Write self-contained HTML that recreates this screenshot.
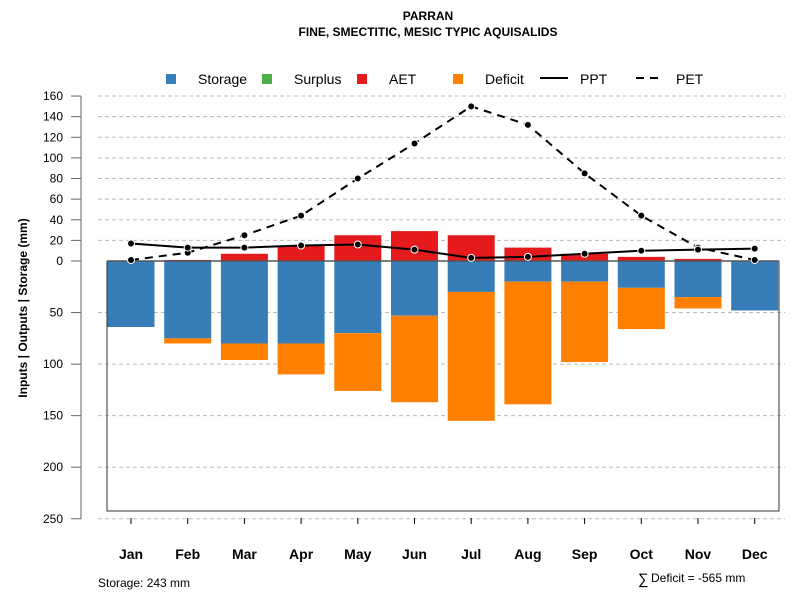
<!DOCTYPE html>
<html><head><meta charset="utf-8"><style>
body{margin:0;background:#fff;font-family:"Liberation Sans",sans-serif}
svg text{font-family:"Liberation Sans",sans-serif}
</style></head><body>
<svg id="c" width="800" height="600" xmlns="http://www.w3.org/2000/svg"></svg>
<script>
const months=["Jan","Feb","Mar","Apr","May","Jun","Jul","Aug","Sep","Oct","Nov","Dec"];
const ppt=[17,13,13,15,16,11,3,4,7,10,11,12];
const pet=[1,8,25,44,80,114,150,132,85,44,13,1];
const aet=[0,1,7,15,25,29,25,13,7,4,2,0];
const storage=[64,75,80,80,70,53,30,20,20,26,35,48];
const deficit=[0,5,16,30,56,84,125,119,78,40,11,0];
const surplus=[0,0,0,0,0,0,0,0,0,0,0,0];
const topTicks=[0,20,40,60,80,100,120,140,160];
const botTicks=[50,100,150,200,250];

const svg=document.getElementById('c');
const NS="http://www.w3.org/2000/svg";
const Y0=261,K=1.031;
const yUp=v=>Y0-v*K, yDn=v=>Y0+v*K;
const xM=i=>131+i*56.7;
function el(t,a,p){const e=document.createElementNS(NS,t);for(const k in a)e.setAttribute(k,a[k]);(p||svg).appendChild(e);return e;}
function txt(x,y,s,a){const e=el('text',Object.assign({x:x,y:y},a));e.textContent=s;return e;}

let t;
t=txt(428,20,"PARRAN",{"text-anchor":"middle","font-size":12,"font-weight":"bold"});


t=txt(428,36,"FINE, SMECTITIC, MESIC TYPIC AQUISALIDS",{"text-anchor":"middle","font-size":12,"font-weight":"bold"});



// grid
topTicks.slice(1).forEach(v=>{const g=el('line',{x1:98,x2:785,y1:yUp(v),y2:yUp(v),stroke:"#bbb","stroke-dasharray":"4,3"});

});
botTicks.forEach(v=>{const g=el('line',{x1:98,x2:785,y1:yDn(v),y2:yDn(v),stroke:"#bbb","stroke-dasharray":"4,3"});

});

// y axis
el('line',{x1:81,x2:81,y1:yUp(160),y2:yDn(250),stroke:"#666"});
topTicks.forEach(v=>{el('line',{x1:71,x2:81,y1:yUp(v),y2:yUp(v),stroke:"#666"});
t=txt(63,yUp(v)+4,String(v),{"text-anchor":"end","font-size":12});

});
botTicks.forEach(v=>{el('line',{x1:71,x2:81,y1:yDn(v),y2:yDn(v),stroke:"#666"});
t=txt(63,yDn(v)+4,String(v),{"text-anchor":"end","font-size":12});

});
t=txt(0,0,"Inputs | Outputs | Storage    (mm)",{"text-anchor":"middle","font-size":12,"font-weight":"bold","xml:space":"preserve",transform:"translate(27,308) rotate(-90)"});



// bars
const bw=47;
months.forEach((m,i)=>{
 const x=xM(i)-bw/2;
 let r=el('rect',{x:x,y:yUp(aet[i]),width:bw,height:aet[i]*K,fill:"#e41a1c"});
 
 
 r=el('rect',{x:x,y:Y0,width:bw,height:storage[i]*K,fill:"#377eb8"});
 
 
 r=el('rect',{x:x,y:yDn(storage[i]),width:bw,height:deficit[i]*K,fill:"#ff7f00"});
 
 
 el('line',{x1:xM(i),x2:xM(i),y1:518,y2:524,stroke:"#000"});
 t=txt(xM(i),559,m,{"text-anchor":"middle","font-size":14,"font-weight":"bold"});
 
 
});
// box
const bx=el('path',{d:"M107,"+Y0+" V511 H779 V"+Y0,fill:"none",stroke:"#333"});


el('line',{x1:107,x2:779,y1:Y0,y2:Y0,stroke:"#555","stroke-width":1.5});

// lines
function series(arr,dash,name){
 const p=el('polyline',{points:arr.map((v,i)=>xM(i)+","+yUp(v)).join(" "),fill:"none",stroke:"#000","stroke-width":2,"stroke-dasharray":dash});
 
 
 arr.forEach((v,i)=>{const c=el('circle',{cx:xM(i),cy:yUp(v),r:3.5,fill:"#000",stroke:"#fff","stroke-width":1});
 
 });
}
series(pet,"8,6","pet");
series(ppt,"none","ppt");

// legend
const lg=el('g',{});


[["Storage","#377eb8",166,198],["Surplus","#4daf4a",262,294],["AET","#e41a1c",357,389],["Deficit","#ff7f00",453,485]].forEach(d=>{
 el('rect',{x:d[2],y:74,width:10,height:10,fill:d[1]},lg);
 const e=txt(d[3],84,d[0],{"font-size":14},lg);
 
 
});
el('line',{x1:540,x2:568,y1:78,y2:78,stroke:"#000","stroke-width":2},lg);
t=txt(580,84,"PPT",{"font-size":14},lg);


el('line',{x1:636,x2:664,y1:78,y2:78,stroke:"#000","stroke-width":2,"stroke-dasharray":"8,6"},lg);
t=txt(676,84,"PET",{"font-size":14},lg);



t=txt(98,587,"Storage: 243 mm",{"font-size":12});


t=txt(638,584,"\u2211",{"font-size":15});


t=txt(651,582,"Deficit = -565 mm",{"font-size":12});


</script>
</body></html>
